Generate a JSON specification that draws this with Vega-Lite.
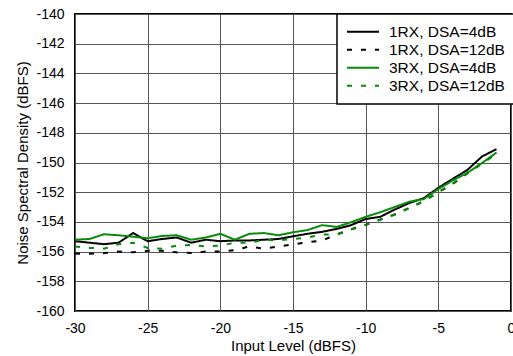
{
  "$schema": "https://vega.github.io/schema/vega-lite/v6.json",
  "width": 436,
  "height": 297,
  "autosize": "none",
  "padding": {"left": 75, "top": 14, "right": 2, "bottom": 45},
  "background": "white",
  "config": {
    "font": "Liberation Sans",
    "view": {"stroke": "black", "strokeWidth": 2},
    "axis": {
      "grid": true,
      "gridColor": "#555",
      "gridWidth": 1,
      "gridOpacity": 1,
      "domain": false,
      "ticks": false,
      "tickSize": 0,
      "labelFontSize": 14,
      "labelColor": "black",
      "titleFontSize": 15,
      "titleFontWeight": "normal",
      "titleColor": "black",
      "labelFlush": false,
      "labelOverlap": false,
      "labelExpr": "'' + datum.value"
    },
    "legend": {
      "orient": "none",
      "legendX": 262,
      "legendY": 0,
      "strokeColor": "black",
      "strokeWidth": 1.5,
      "fillColor": "white",
      "padding": 9,
      "symbolType": "stroke",
      "symbolSize": 1024,
      "symbolStrokeWidth": 2,
      "clipHeight": 17.3,
      "rowPadding": 0,
      "labelFontSize": 15.5,
      "labelColor": "black",
      "labelOffset": 9,
      "labelLimit": 300
    }
  },
  "data": {
    "values": [
      {"x": -30, "v": -155.3, "s": "1RX, DSA=4dB"},
      {"x": -29, "v": -155.4, "s": "1RX, DSA=4dB"},
      {"x": -28, "v": -155.5, "s": "1RX, DSA=4dB"},
      {"x": -27, "v": -155.4, "s": "1RX, DSA=4dB"},
      {"x": -26, "v": -154.75, "s": "1RX, DSA=4dB"},
      {"x": -25, "v": -155.3, "s": "1RX, DSA=4dB"},
      {"x": -24, "v": -155.15, "s": "1RX, DSA=4dB"},
      {"x": -23, "v": -155.05, "s": "1RX, DSA=4dB"},
      {"x": -22, "v": -155.4, "s": "1RX, DSA=4dB"},
      {"x": -21, "v": -155.2, "s": "1RX, DSA=4dB"},
      {"x": -20, "v": -155.3, "s": "1RX, DSA=4dB"},
      {"x": -19, "v": -155.25, "s": "1RX, DSA=4dB"},
      {"x": -18, "v": -155.25, "s": "1RX, DSA=4dB"},
      {"x": -17, "v": -155.2, "s": "1RX, DSA=4dB"},
      {"x": -16, "v": -155.15, "s": "1RX, DSA=4dB"},
      {"x": -15, "v": -154.97, "s": "1RX, DSA=4dB"},
      {"x": -14, "v": -154.8, "s": "1RX, DSA=4dB"},
      {"x": -13, "v": -154.67, "s": "1RX, DSA=4dB"},
      {"x": -12, "v": -154.47, "s": "1RX, DSA=4dB"},
      {"x": -11, "v": -154.22, "s": "1RX, DSA=4dB"},
      {"x": -10, "v": -153.8, "s": "1RX, DSA=4dB"},
      {"x": -9, "v": -153.66, "s": "1RX, DSA=4dB"},
      {"x": -8, "v": -153.17, "s": "1RX, DSA=4dB"},
      {"x": -7, "v": -152.73, "s": "1RX, DSA=4dB"},
      {"x": -6, "v": -152.4, "s": "1RX, DSA=4dB"},
      {"x": -5, "v": -151.7, "s": "1RX, DSA=4dB"},
      {"x": -4, "v": -151.1, "s": "1RX, DSA=4dB"},
      {"x": -3, "v": -150.5, "s": "1RX, DSA=4dB"},
      {"x": -2, "v": -149.6, "s": "1RX, DSA=4dB"},
      {"x": -1, "v": -149.1, "s": "1RX, DSA=4dB"},

      {"x": -30, "v": -156.13, "s": "1RX, DSA=12dB"},
      {"x": -29, "v": -156.15, "s": "1RX, DSA=12dB"},
      {"x": -28, "v": -156.1, "s": "1RX, DSA=12dB"},
      {"x": -27, "v": -156.0, "s": "1RX, DSA=12dB"},
      {"x": -26, "v": -156.05, "s": "1RX, DSA=12dB"},
      {"x": -25, "v": -155.95, "s": "1RX, DSA=12dB"},
      {"x": -24, "v": -155.95, "s": "1RX, DSA=12dB"},
      {"x": -23, "v": -156.05, "s": "1RX, DSA=12dB"},
      {"x": -22, "v": -156.1, "s": "1RX, DSA=12dB"},
      {"x": -21, "v": -156.0, "s": "1RX, DSA=12dB"},
      {"x": -20, "v": -156.0, "s": "1RX, DSA=12dB"},
      {"x": -19, "v": -155.9, "s": "1RX, DSA=12dB"},
      {"x": -18, "v": -155.65, "s": "1RX, DSA=12dB"},
      {"x": -17, "v": -155.8, "s": "1RX, DSA=12dB"},
      {"x": -16, "v": -155.65, "s": "1RX, DSA=12dB"},
      {"x": -15, "v": -155.52, "s": "1RX, DSA=12dB"},
      {"x": -14, "v": -155.37, "s": "1RX, DSA=12dB"},
      {"x": -13, "v": -155.25, "s": "1RX, DSA=12dB"},
      {"x": -12, "v": -154.85, "s": "1RX, DSA=12dB"},
      {"x": -11, "v": -154.5, "s": "1RX, DSA=12dB"},
      {"x": -10, "v": -154.2, "s": "1RX, DSA=12dB"},
      {"x": -9, "v": -153.85, "s": "1RX, DSA=12dB"},
      {"x": -8, "v": -153.5, "s": "1RX, DSA=12dB"},
      {"x": -7, "v": -153.06, "s": "1RX, DSA=12dB"},
      {"x": -6, "v": -152.6, "s": "1RX, DSA=12dB"},
      {"x": -5, "v": -152.0, "s": "1RX, DSA=12dB"},
      {"x": -4, "v": -151.45, "s": "1RX, DSA=12dB"},
      {"x": -3, "v": -150.7, "s": "1RX, DSA=12dB"},
      {"x": -2, "v": -150.04, "s": "1RX, DSA=12dB"},
      {"x": -1, "v": -149.4, "s": "1RX, DSA=12dB"},

      {"x": -30, "v": -155.2, "s": "3RX, DSA=4dB"},
      {"x": -29, "v": -155.15, "s": "3RX, DSA=4dB"},
      {"x": -28, "v": -154.83, "s": "3RX, DSA=4dB"},
      {"x": -27, "v": -154.9, "s": "3RX, DSA=4dB"},
      {"x": -26, "v": -155.0, "s": "3RX, DSA=4dB"},
      {"x": -25, "v": -155.1, "s": "3RX, DSA=4dB"},
      {"x": -24, "v": -154.95, "s": "3RX, DSA=4dB"},
      {"x": -23, "v": -154.9, "s": "3RX, DSA=4dB"},
      {"x": -22, "v": -155.2, "s": "3RX, DSA=4dB"},
      {"x": -21, "v": -155.05, "s": "3RX, DSA=4dB"},
      {"x": -20, "v": -154.8, "s": "3RX, DSA=4dB"},
      {"x": -19, "v": -155.2, "s": "3RX, DSA=4dB"},
      {"x": -18, "v": -154.8, "s": "3RX, DSA=4dB"},
      {"x": -17, "v": -154.75, "s": "3RX, DSA=4dB"},
      {"x": -16, "v": -154.9, "s": "3RX, DSA=4dB"},
      {"x": -15, "v": -154.7, "s": "3RX, DSA=4dB"},
      {"x": -14, "v": -154.55, "s": "3RX, DSA=4dB"},
      {"x": -13, "v": -154.22, "s": "3RX, DSA=4dB"},
      {"x": -12, "v": -154.34, "s": "3RX, DSA=4dB"},
      {"x": -11, "v": -154.02, "s": "3RX, DSA=4dB"},
      {"x": -10, "v": -153.66, "s": "3RX, DSA=4dB"},
      {"x": -9, "v": -153.35, "s": "3RX, DSA=4dB"},
      {"x": -8, "v": -153.0, "s": "3RX, DSA=4dB"},
      {"x": -7, "v": -152.64, "s": "3RX, DSA=4dB"},
      {"x": -6, "v": -152.46, "s": "3RX, DSA=4dB"},
      {"x": -5, "v": -151.79, "s": "3RX, DSA=4dB"},
      {"x": -4, "v": -151.2, "s": "3RX, DSA=4dB"},
      {"x": -3, "v": -150.7, "s": "3RX, DSA=4dB"},
      {"x": -2, "v": -150.04, "s": "3RX, DSA=4dB"},
      {"x": -1, "v": -149.33, "s": "3RX, DSA=4dB"},

      {"x": -30, "v": -155.65, "s": "3RX, DSA=12dB"},
      {"x": -29, "v": -155.75, "s": "3RX, DSA=12dB"},
      {"x": -28, "v": -155.8, "s": "3RX, DSA=12dB"},
      {"x": -27, "v": -155.5, "s": "3RX, DSA=12dB"},
      {"x": -26, "v": -155.4, "s": "3RX, DSA=12dB"},
      {"x": -25, "v": -155.75, "s": "3RX, DSA=12dB"},
      {"x": -24, "v": -155.8, "s": "3RX, DSA=12dB"},
      {"x": -23, "v": -155.6, "s": "3RX, DSA=12dB"},
      {"x": -22, "v": -155.55, "s": "3RX, DSA=12dB"},
      {"x": -21, "v": -155.65, "s": "3RX, DSA=12dB"},
      {"x": -20, "v": -155.6, "s": "3RX, DSA=12dB"},
      {"x": -19, "v": -155.4, "s": "3RX, DSA=12dB"},
      {"x": -18, "v": -155.4, "s": "3RX, DSA=12dB"},
      {"x": -17, "v": -155.2, "s": "3RX, DSA=12dB"},
      {"x": -16, "v": -155.25, "s": "3RX, DSA=12dB"},
      {"x": -15, "v": -155.15, "s": "3RX, DSA=12dB"},
      {"x": -14, "v": -155.05, "s": "3RX, DSA=12dB"},
      {"x": -13, "v": -154.85, "s": "3RX, DSA=12dB"},
      {"x": -12, "v": -154.85, "s": "3RX, DSA=12dB"},
      {"x": -11, "v": -154.5, "s": "3RX, DSA=12dB"},
      {"x": -10, "v": -154.2, "s": "3RX, DSA=12dB"},
      {"x": -9, "v": -153.85, "s": "3RX, DSA=12dB"},
      {"x": -8, "v": -153.5, "s": "3RX, DSA=12dB"},
      {"x": -7, "v": -153.06, "s": "3RX, DSA=12dB"},
      {"x": -6, "v": -152.6, "s": "3RX, DSA=12dB"},
      {"x": -5, "v": -152.0, "s": "3RX, DSA=12dB"},
      {"x": -4, "v": -151.4, "s": "3RX, DSA=12dB"},
      {"x": -3, "v": -150.75, "s": "3RX, DSA=12dB"},
      {"x": -2, "v": -150.1, "s": "3RX, DSA=12dB"},
      {"x": -1, "v": -149.4, "s": "3RX, DSA=12dB"}
    ]
  },
  "mark": {"type": "line", "strokeWidth": 2, "clip": true},
  "encoding": {
    "x": {
      "field": "x",
      "type": "quantitative",
      "scale": {"domain": [-30, 0], "nice": false, "zero": false},
      "axis": {
        "values": [-30, -25, -20, -15, -10, -5, 0],
        "title": "Input Level (dBFS)",
        "labelPadding": 10,
        "titlePadding": 3
      }
    },
    "y": {
      "field": "v",
      "type": "quantitative",
      "scale": {"domain": [-160, -140], "nice": false, "zero": false},
      "axis": {
        "values": [-160, -158, -156, -154, -152, -150, -148, -146, -144, -142, -140],
        "title": "Noise Spectral Density (dBFS)",
        "labelPadding": 11,
        "titlePadding": 5
      }
    },
    "color": {
      "field": "s",
      "type": "nominal",
      "title": null,
      "scale": {
        "domain": ["1RX, DSA=4dB", "1RX, DSA=12dB", "3RX, DSA=4dB", "3RX, DSA=12dB"],
        "range": ["#000000", "#000000", "#0a8a0a", "#0a8a0a"]
      }
    },
    "strokeDash": {
      "field": "s",
      "type": "nominal",
      "title": null,
      "scale": {
        "domain": ["1RX, DSA=4dB", "1RX, DSA=12dB", "3RX, DSA=4dB", "3RX, DSA=12dB"],
        "range": [[1, 0], [5, 9], [1, 0], [5, 9]]
      }
    }
  }
}
